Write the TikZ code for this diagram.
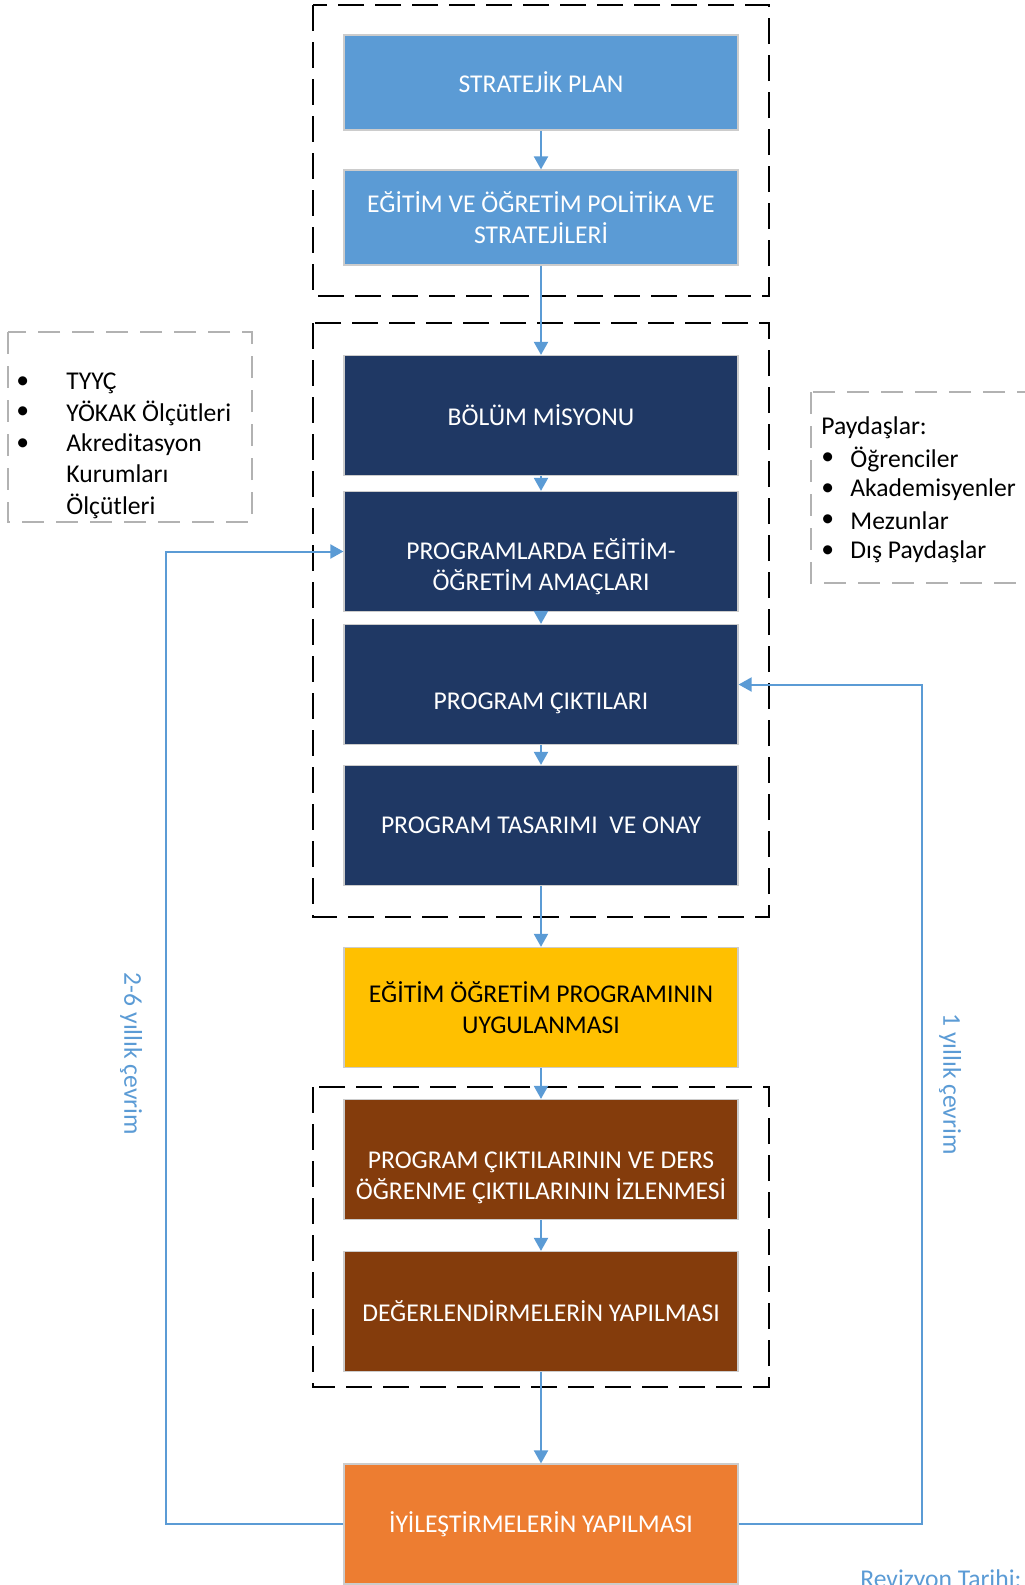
\documentclass[tikz,border=0pt]{standalone}
\usepackage{fontspec}
\setmainfont{Carlito}
\usepackage{tikz}
\usetikzlibrary{arrows.meta}
\definecolor{acikmavi}{HTML}{5B9BD5}
\definecolor{lacivert}{HTML}{1F3864}
\definecolor{sari}{HTML}{FFC000}
\definecolor{kahve}{HTML}{843C0C}
\definecolor{turuncu}{HTML}{ED7D31}

\begin{document}
\begin{tikzpicture}[x=0.5pt, y=-0.5pt,
	kutu/.style={draw=black!20, line width=0.6pt, text=white, align=center, minimum width=197pt, minimum height=60pt, inner sep=0pt, font=\fontsize{12.8}{15.65}\selectfont},
	kutuyazi/.style={text=white, align=center, inner sep=0pt, font=\fontsize{12.8}{15.65}\selectfont},
	ok/.style={-{Triangle[width=7pt,length=6.5pt]}, draw=acikmavi, line width=1pt},
	cerceve/.style={dash pattern=on 13pt off 5.5pt, line width=1pt},
	yancerceve/.style={draw=black!30, dash pattern=on 11pt off 6pt, line width=0.7pt},
	yazi/.style={anchor=west, inner sep=0pt, font=\fontsize{12.8}{15.65}\selectfont},
	dongu/.style={text=acikmavi, rotate=-90, inner sep=0pt, font=\fontsize{12.8}{15.65}\selectfont}]
			\useasboundingbox (0,0) rectangle (1024,1585);
			% kesikli cerceveler
			\draw [cerceve] (313,5) rectangle (769,296);
			\draw [cerceve] (313,323) rectangle (769,917);
			\draw [cerceve] (313,1087) rectangle (769,1387);
			\draw [yancerceve] (8,332) rectangle (252,522);
			\draw [yancerceve] (811,392) rectangle (1040,583);
			% kutular
			\node [kutu, fill=acikmavi, minimum height=47.5pt] (strateji) at (541,82.5) {STRATEJİK PLAN};
			\node [kutu, fill=acikmavi, minimum height=47.5pt] (politika) at (541,217.5) {EĞİTİM VE ÖĞRETİM POLİTİKA VE\\STRATEJİLERİ};
			\node [kutu, fill=lacivert] (misyon) at (541,415.5) {BÖLÜM MİSYONU};
			\node [kutu, fill=lacivert, label={[kutuyazi, yshift=-7.5pt]center:{PROGRAMLARDA EĞİTİM-\\ÖĞRETİM AMAÇLARI}}] (amaclar) at (541,551.5) {};
			\node [kutu, fill=lacivert, label={[kutuyazi, yshift=-9.5pt]center:PROGRAM ÇIKTILARI}] (ciktilar) at (541,684.5) {};
			\node [kutu, fill=lacivert] (tasarim) at (541,825.5) {PROGRAM TASARIMI\ \ VE ONAY};
			\node [kutu, fill=sari, text=black] (uygulama) at (541,1007.5) {EĞİTİM ÖĞRETİM PROGRAMININ\\UYGULANMASI};
			\node [kutu, fill=kahve, label={[kutuyazi, yshift=-9pt]center:{PROGRAM ÇIKTILARININ VE DERS\\ÖĞRENME ÇIKTILARININ İZLENMESİ}}] (izleme) at (541,1159.5) {};
			\node [kutu, fill=kahve] (degerlendirme) at (541,1311.5) {DEĞERLENDİRMELERİN YAPILMASI};
			\node [kutu, fill=turuncu] (iyilestirme) at (541,1524) {İYİLEŞTİRMELERİN YAPILMASI};
			% oklar
			\draw [ok] (strateji) -- (politika);
			\draw [ok] (politika) -- (misyon);
			\draw [ok] (misyon) -- (amaclar);
			\draw [ok] (amaclar) -- (ciktilar);
			\draw [ok] (ciktilar) -- (tasarim);
			\draw [ok] (tasarim) -- (uygulama);
			\draw [ok] (uygulama) -- (izleme);
			\draw [ok] (izleme) -- (degerlendirme);
			\draw [ok] (degerlendirme) -- (iyilestirme);
			\draw [ok] (iyilestirme.west) -- ++(-177,0) |- (amaclar.west);
			\draw [ok] (iyilestirme.east) -- ++(183,0) |- (ciktilar.east);
			% yan yazilar
			\node [yazi] (b1) at (16,383) {•};
			\node [yazi] (b2) at (16,413) {•};
			\node [yazi] (b3) at (16,445) {•};
			\node [yazi] (tyyc) at (66,383) {TYYÇ};
			\node [yazi] (yokak) at (66,413) {YÖKAK Ölçütleri};
			\node [yazi, align=left] (akred) at (66,476) {Akreditasyon\\Kurumları\\Ölçütleri};
			\node [yazi] (paydas) at (821,428) {Paydaşlar:};
			\node [yazi] (p1) at (821,459) {•};
			\node [yazi] (p2) at (821,490) {•};
			\node [yazi] (p3) at (821,521) {•};
			\node [yazi] (p4) at (821,552) {•};
			\node [yazi] (ogrenci) at (850,459) {Öğrenciler};
			\node [yazi] (akademi) at (850,490) {Akademisyenler};
			\node [yazi] (mezun) at (850,521) {Mezunlar};
			\node [yazi] (dis) at (850,552) {Dış Paydaşlar};
			\node [dongu] (uzun) at (131,1054) {2-6 yıllık çevrim};
			\node [dongu] (kisa) at (950,1084) {1 yıllık çevrim};
			\node [yazi, anchor=base west, text=acikmavi] (revizyon) at (860,1587) {Revizyon Tarihi:};
		\end{tikzpicture}
\end{document}
